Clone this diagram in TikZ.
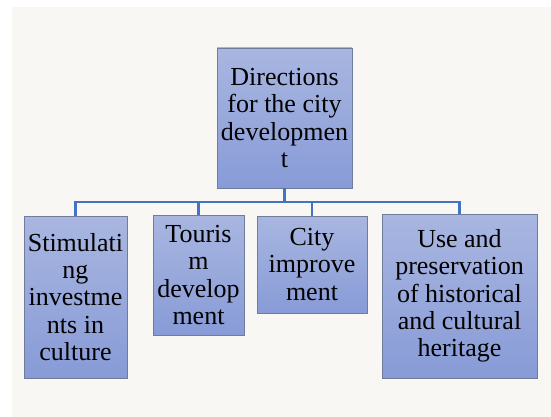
\documentclass[tikz,border=0pt]{standalone}
\usepackage{fontspec}
\setmainfont{Liberation Serif}
\usetikzlibrary{calc}
\definecolor{pagetint}{HTML}{F8F7F3}
\definecolor{boxtop}{HTML}{A8B6E0}
\definecolor{boxbottom}{HTML}{889BD7}
\definecolor{boxline}{HTML}{6F7C9C}
\definecolor{linkblue}{HTML}{4472C4}
\tikzset{
  dirbox/.style={draw=boxline,line width=0.9pt,top color=boxtop,bottom color=boxbottom,
    align=center,inner sep=0pt,font=\fontsize{26pt}{27.3pt}\selectfont},
  link/.style={draw=linkblue,line width=2.4pt}
}

\begin{document}
\begin{tikzpicture}[x=1pt,y=-1pt]
    \pgfmathsetmacro{\busy}{202}
    % page and tinted sheet
    \useasboundingbox (0,0) rectangle (551,417);
    \fill[pagetint] (12,7) rectangle (551,417);
    % boxes
    \node[dirbox,minimum width=135pt,minimum height=140pt] (dir) at (284.5,118)
      {Directions\\for the city\\developmen\\t};
    \node[dirbox,minimum width=103pt,minimum height=162pt] (stim) at (75.5,297)
      {Stimulati\\ng\\investme\\nts in\\culture};
    \node[dirbox,minimum width=91pt,minimum height=120pt] (tour) at (198.5,275)
      {Touris\\m\\develop\\ment};
    \node[dirbox,minimum width=110pt,minimum height=97pt] (impr) at (312,264.5)
      {City\\improve\\ment};
    \node[dirbox,minimum width=155pt,minimum height=164pt] (herit) at (459.5,296)
      {Use and\\preservation\\of historical\\and cultural\\heritage};
    % connectors
    \coordinate (bus) at ($(dir.south)!1!(dir.south |- 0,\busy)$);
    \foreach \b in {stim,tour,impr,herit}
      \draw[link] (dir.south) -- (bus) -| (\b.north);
\end{tikzpicture}
\end{document}
